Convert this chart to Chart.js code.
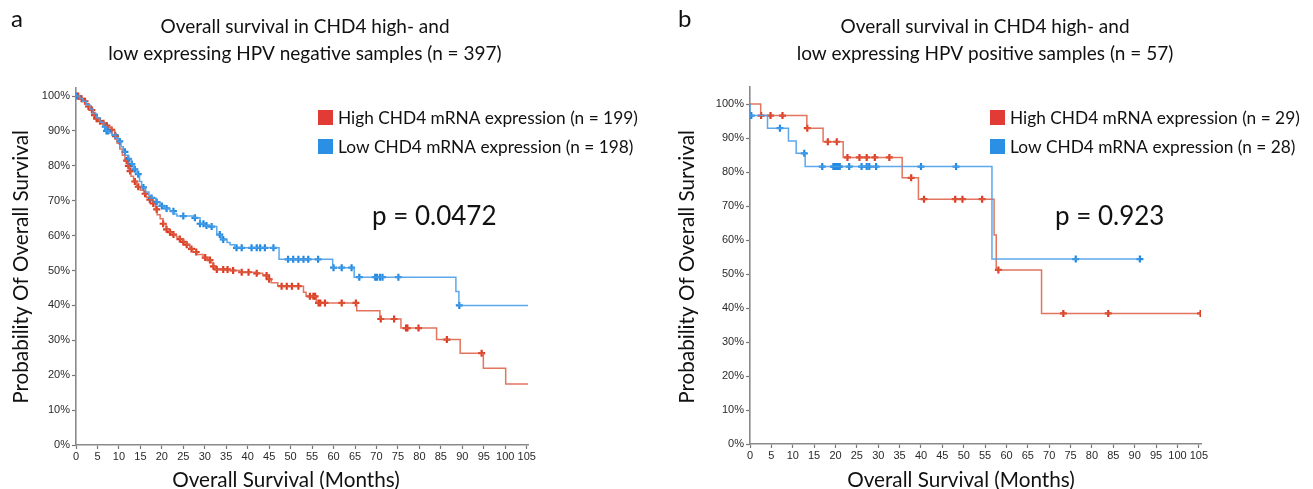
<!DOCTYPE html>
<html>
<head>
<meta charset="utf-8">
<script src="https://cdn.jsdelivr.net/npm/chart.js@4.4.0/dist/chart.umd.min.js"></script>
<style>
  html, body { margin: 0; padding: 0; background: #fff; }
  #wrap { position: relative; width: 1313px; height: 489px; overflow: hidden; }
  canvas { position: absolute; top: 0; }
</style>
</head>
<body>
<div id="wrap">
  <canvas id="chartA" width="656" height="489" style="left:0"></canvas>
  <canvas id="chartB" width="657" height="489" style="left:656px"></canvas>
</div>
<script>
// Axis ticks
const xTicks = [0, 5, 10, 15, 20, 25, 30, 35, 40, 45, 50, 55, 60, 65, 70, 75, 80, 85, 90, 95, 100, 105];
const yTicks = [0, 10, 20, 30, 40, 50, 60, 70, 80, 90, 100];

// Panel a - HPV negative, high CHD4 (event months / survival % after event)
const highNegMonths = [0, 0.8, 1.5, 2.2, 2.8, 3.4, 4.0, 4.6, 5.3, 6.0, 6.8, 7.6, 8.3, 9.0, 9.6, 10.2, 10.8, 11.4, 12.0, 12.4, 12.8, 13.4, 14.1, 15.0, 15.8, 16.4, 17.2, 18.0, 18.5, 18.9, 19.6, 20.3, 21.0, 21.8, 22.6, 23.4, 24.2, 25.0, 25.8, 26.5, 27.2, 28.2, 29.6, 30.6, 31.5, 32.0, 32.5, 36.0, 38.1, 42.0, 43.5, 44.8, 45.5, 47.0, 53.0, 53.6, 56.0, 65.4, 70.8, 75.7, 84.0, 89.5, 94.9, 100.1, 105.3];
const highNegSurv = [100, 99.2, 98.5, 97.8, 97, 96, 94.5, 93.5, 92.8, 92.2, 91.5, 91, 90.3, 88.5, 86.5, 84.8, 83, 81.5, 80, 78.5, 77, 75.5, 74, 73, 72, 71, 70.3, 69.2, 67.5, 66, 64.8, 63.4, 61.8, 61, 60.3, 59.6, 59, 58.2, 57.4, 56.2, 55.3, 54.6, 53.7, 53, 52.2, 51.2, 50.3, 50, 49.5, 49.2, 48.6, 47.5, 46.5, 45.5, 43.8, 42.6, 40.7, 38.5, 36.1, 33.5, 30.2, 26.3, 22, 17.5, 17.5];
const highNegCensor = [0.5, 1.3, 2.1, 2.9, 3.7, 4.3, 4.8, 5.6, 6.4, 7.2, 8.3, 9.2, 11.8, 12.2, 12.6, 13.7, 14.5, 16.1, 17.2, 18.0, 18.8, 20.3, 21.1, 21.9, 22.7, 24.2, 25.0, 25.8, 26.9, 28.0, 30.1, 31.2, 32.0, 32.8, 34.3, 35.3, 36.6, 38.6, 40.2, 42.1, 44.4, 45.0, 47.9, 49.1, 50.3, 51.8, 54.5, 55.3, 55.7, 56.5, 56.9, 58.0, 61.9, 65.2, 71.0, 74.1, 76.9, 77.2, 79.8, 86.4, 94.5];

// Panel a - HPV negative, low CHD4
const lowNegMonths = [0, 0.8, 1.6, 2.4, 3.2, 4.0, 4.8, 5.6, 6.4, 7.0, 7.6, 8.4, 9.2, 9.9, 10.5, 11.0, 11.5, 12.2, 12.9, 13.5, 14.2, 14.8, 15.3, 16.2, 17.0, 17.6, 18.6, 19.6, 20.7, 21.9, 22.8, 23.5, 27.5, 28.9, 30.0, 31.6, 32.8, 33.9, 35.2, 35.9, 37.0, 47.3, 59.8, 64.8, 88.5, 89.2, 105.3];
const lowNegSurv = [100, 99.3, 98.5, 97.5, 96.3, 95, 93.8, 92.5, 91.2, 90, 89.4, 88.8, 88, 87, 85.5, 84, 83, 82, 80.5, 79, 77.6, 75.5, 73.8, 72.5, 71.5, 70.8, 69.6, 68.5, 67.8, 67, 66.2, 65.6, 65.1, 63.4, 62.9, 62.6, 60.3, 58.9, 58, 57.4, 56.5, 53.2, 50.8, 48.1, 44, 40, 40];
const lowNegCensor = [0.2, 6.8, 7.1, 7.5, 9.1, 10.2, 11.4, 12.2, 13.0, 13.7, 14.5, 15.7, 17.6, 18.8, 20.0, 21.1, 22.7, 25.0, 27.7, 28.9, 29.7, 30.4, 31.6, 33.5, 34.3, 37.4, 38.6, 40.9, 42.1, 42.9, 44.0, 46.0, 49.4, 50.6, 51.8, 53.0, 54.1, 56.4, 60.0, 61.9, 64.2, 66.0, 69.7, 70.1, 70.8, 71.4, 75.1, 89.3];

// Panel b - HPV positive, high CHD4
const highPosMonths = [0, 2.5, 13.3, 17.1, 21.8, 35.6, 39.4, 57.1, 57.6, 68.2, 105.4];
const highPosSurv = [100, 96.6, 92.9, 88.9, 84.3, 78.3, 72.0, 61.5, 51.2, 38.4, 38.4];
const highPosCensor = [2.6, 4.8, 7.6, 13.4, 18.2, 20.3, 22.8, 25.6, 27.3, 29.2, 32.6, 37.7, 40.7, 48.0, 49.7, 54.3, 58.1, 73.3, 83.8, 105.4];

// Panel b - HPV positive, low CHD4
const lowPosMonths = [0, 0, 4.1, 9.0, 10.8, 12.9, 56.6, 91.2];
const lowPosSurv = [100, 96.6, 92.9, 89.1, 85.5, 81.6, 54.4, 54.4];
const lowPosCensor = [0.3, 7.0, 12.7, 16.9, 19.5, 19.8, 20.1, 20.4, 20.7, 21.0, 23.2, 26.1, 27.3, 27.9, 29.5, 40.0, 48.2, 76.2, 91.2];

const RED_LINE = 'rgba(222, 92, 66, 0.85)';
const RED_MARK = '#dc3d22';
const RED_BOX = '#e23b35';
const BLUE_LINE = 'rgba(74, 158, 232, 0.9)';
const BLUE_MARK = '#2389e0';
const BLUE_BOX = '#2b90e4';
const TEXT_FONT = 'Lato, "Open Sans", sans-serif';

function toPoints(months, surv) {
  return months.map((m, i) => ({ x: m, y: surv[i] }));
}

// survival value of the step curve at time t
function survAt(months, surv, t) {
  let s = surv[0];
  for (let i = 0; i < months.length; i++) {
    if (months[i] <= t) s = surv[i];
  }
  return s;
}

function censorPoints(censor, months, surv) {
  return censor.map(t => ({ x: t, y: survAt(months, surv, t) }));
}

function curve(months, surv, color) {
  return {
    data: toPoints(months, surv),
    showLine: true,
    stepped: true,
    borderColor: color,
    borderWidth: 1.5,
    pointRadius: 0
  };
}

function marks(censor, months, surv, color) {
  return {
    data: censorPoints(censor, months, surv),
    showLine: false,
    pointStyle: 'cross',
    pointRadius: 3.5,
    pointBorderWidth: 2.2,
    pointBorderColor: color,
    pointBackgroundColor: color
  };
}

// draws panel letter, title, legend, p value and axis titles
function annotations(cfg) {
  return {
    id: 'annot' + cfg.letter,
    afterDraw(chart) {
      const ctx = chart.ctx;
      ctx.save();
      ctx.fillStyle = '#111';

      ctx.font = '24px ' + TEXT_FONT;
      ctx.textAlign = 'left';
      ctx.textBaseline = 'alphabetic';
      ctx.fillText(cfg.letter, cfg.letterX, 27);

      ctx.font = '19px ' + TEXT_FONT;
      ctx.textAlign = 'center';
      ctx.textBaseline = 'middle';
      cfg.title.forEach((line, i) => ctx.fillText(line, cfg.titleX, 27 + i * 27));

      ctx.font = '17.3px ' + TEXT_FONT;
      ctx.textAlign = 'left';
      cfg.legend.forEach((item, i) => {
        ctx.fillStyle = item.color;
        ctx.fillRect(cfg.legendX, 110 + i * 29, 15, 15);
        ctx.fillStyle = '#111';
        ctx.fillText(item.text, cfg.legendX + 20, 118 + i * 29);
      });

      ctx.font = '26px ' + TEXT_FONT;
      ctx.fillText(cfg.pText, cfg.pX, 217);

      ctx.font = '20.7px ' + TEXT_FONT;
      ctx.textAlign = 'center';
      ctx.fillText('Overall Survival (Months)', cfg.xTitleX, 480);

      ctx.translate(cfg.yTitleX, 267);
      ctx.rotate(-Math.PI / 2);
      ctx.fillText('Probability Of Overall Survival', 0, 0);
      ctx.restore();
    }
  };
}

function scales(xMax, yMax, yWidth, xHeight) {
  const grid = { drawOnChartArea: false, drawTicks: true, tickLength: 4, tickWidth: 1.2, tickColor: '#777' };
  const border = { display: true, color: '#8a8a8a', width: 1.6 };
  const tickFont = { family: '"Liberation Sans", Arial, sans-serif', size: 11 };
  return {
    x: {
      type: 'linear', min: 0, max: xMax,
      grid: grid, border: border,
      ticks: { font: tickFont, color: '#2a2a2a', padding: 1, maxRotation: 0, autoSkip: false },
      afterBuildTicks: s => { s.ticks = xTicks.map(v => ({ value: v })); },
      afterFit: s => { s.height = xHeight; }
    },
    y: {
      type: 'linear', min: 0, max: yMax,
      grid: grid, border: border,
      ticks: { font: tickFont, color: '#2a2a2a', padding: 2, autoSkip: false, callback: v => v + '%' },
      afterBuildTicks: s => { s.ticks = yTicks.map(v => ({ value: v })); },
      afterFit: s => { s.width = yWidth; }
    }
  };
}

Chart.defaults.animation = false;

new Chart(document.getElementById('chartA'), {
  type: 'scatter',
  data: {
    datasets: [
      curve(lowNegMonths, lowNegSurv, BLUE_LINE),
      curve(highNegMonths, highNegSurv, RED_LINE),
      marks(lowNegCensor, lowNegMonths, lowNegSurv, BLUE_MARK),
      marks(highNegCensor, highNegMonths, highNegSurv, RED_MARK)
    ]
  },
  options: {
    responsive: false,
    devicePixelRatio: 1,
    layout: { padding: { left: 0, top: 88, right: 128, bottom: 0 } },
    plugins: { legend: { display: false }, tooltip: { enabled: false } },
    scales: scales(105.3, 102.3, 76, 44)
  },
  plugins: [annotations({
    letter: 'a', letterX: 11,
    title: ['Overall survival in CHD4 high- and', 'low expressing HPV negative samples (n = 397)'],
    titleX: 305,
    legend: [
      { text: 'High CHD4 mRNA expression (n = 199)', color: RED_BOX },
      { text: 'Low CHD4 mRNA expression (n = 198)', color: BLUE_BOX }
    ],
    legendX: 318,
    pText: 'p = 0.0472', pX: 372,
    xTitleX: 286, yTitleX: 21
  })]
});

new Chart(document.getElementById('chartB'), {
  type: 'scatter',
  data: {
    datasets: [
      curve(lowPosMonths, lowPosSurv, BLUE_LINE),
      curve(highPosMonths, highPosSurv, RED_LINE),
      marks(lowPosCensor, lowPosMonths, lowPosSurv, BLUE_MARK),
      marks(highPosCensor, highPosMonths, highPosSurv, RED_MARK)
    ]
  },
  options: {
    responsive: false,
    devicePixelRatio: 1,
    layout: { padding: { left: 0, top: 87, right: 112, bottom: 0 } },
    plugins: { legend: { display: false }, tooltip: { enabled: false } },
    scales: scales(105.5, 105, 94, 45)
  },
  plugins: [annotations({
    letter: 'b', letterX: 22,
    title: ['Overall survival in CHD4 high- and', 'low expressing HPV positive samples (n = 57)'],
    titleX: 329,
    legend: [
      { text: 'High CHD4 mRNA expression (n = 29)', color: RED_BOX },
      { text: 'Low CHD4 mRNA expression (n = 28)', color: BLUE_BOX }
    ],
    legendX: 334,
    pText: 'p = 0.923', pX: 399,
    xTitleX: 305, yTitleX: 31
  })]
});
</script>
</body>
</html>
